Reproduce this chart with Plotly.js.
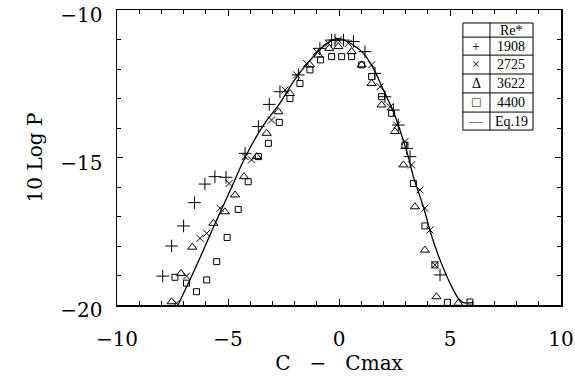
<!DOCTYPE html>
<html><head><meta charset="utf-8">
<script src="https://cdn.plot.ly/plotly-3.0.1.min.js"></script>
<style>html,body{margin:0;padding:0;background:#fff}#chart{width:575px;height:377px}</style>
</head><body><div id="chart"></div>
<script>
// Series Re* = 1908 (+)
const x1908 = [-7.94,-7.54,-7.0,-6.51,-6.04,-5.59,-5.09,-4.23,-3.63,-3.14,-2.66,-1.83,-0.86,-0.33,-0.18,0.2,0.65,1.17,1.62,2.07,2.45,2.67,3.05,3.2,4.55];
const y1908 = [-19.02,-18.0,-17.32,-16.53,-15.9,-15.65,-15.67,-14.86,-13.95,-13.2,-12.77,-12.2,-11.3,-11.02,-11.02,-11.02,-11.07,-11.41,-12.15,-12.94,-13.39,-13.9,-14.69,-14.97,-18.98];
// Series Re* = 2725 (x)
const x2725 = [-7.32,-6.87,-6.26,-5.96,-5.36,-4.95,-4.23,-3.94,-3.04,-2.43,-1.91,-1.46,-1.01,-0.48,-0.03,0.42,1.47,1.85,2.3,2.6,2.97,3.27,3.65,3.87,4.1,4.32];
const y2725 = [-19.94,-19.02,-17.74,-17.57,-16.72,-15.88,-14.97,-15.08,-13.73,-12.71,-12.2,-11.81,-11.41,-11.13,-11.02,-11.13,-11.86,-12.6,-13.28,-13.9,-14.46,-15.25,-16.1,-16.72,-17.46,-18.64];
// Series Re* = 3622 (triangle)
const x3622 = [-7.54,-7.12,-6.61,-5.66,-5.14,-4.68,-4.28,-3.71,-3.26,-2.73,-2.21,-1.31,-0.93,-0.44,-0.03,0.57,1.02,1.47,1.92,2.52,2.9,3.42,3.87,4.39,5.37];
const y3622 = [-19.89,-18.93,-18.04,-17.23,-16.84,-16.27,-15.65,-14.97,-14.18,-13.45,-12.83,-11.86,-11.53,-11.3,-11.24,-11.41,-11.86,-12.49,-13.22,-14.12,-15.25,-16.67,-18.14,-19.72,-19.94];
// Series Re* = 4400 (square)
const x4400 = [-7.39,-6.87,-6.42,-5.96,-5.51,-5.04,-4.54,-4.09,-3.63,-3.18,-2.69,-2.21,-1.76,-1.31,-0.83,-0.33,0.12,0.57,1.02,1.47,1.92,2.37,2.97,3.35,3.87,4.32,4.88,5.9];
const y4400 = [-19.06,-19.26,-19.55,-19.15,-18.53,-17.71,-16.76,-15.82,-14.97,-14.52,-13.81,-13.0,-12.49,-12.03,-11.69,-11.58,-11.58,-11.58,-11.86,-12.26,-12.94,-13.5,-14.58,-15.88,-17.32,-18.64,-19.91,-19.9];
// Eq.19 curve
const xEq = [-7.25,-6.5,-5.5,-4.8,-4.2,-3.4,-2.7,-2.0,-1.3,-0.55,0.0,0.65,1.1,1.55,2.0,2.45,2.82,3.12,3.35,3.8,4.18,4.55,5.0,5.37,5.6,6.0];
const yEq = [-20.0,-18.8,-17.1,-15.95,-14.95,-13.9,-13.2,-12.37,-11.7,-11.13,-10.97,-11.19,-11.47,-11.98,-12.71,-13.45,-14.24,-14.97,-15.65,-16.67,-17.68,-18.47,-19.26,-19.77,-19.92,-19.92];
// Legend table
const legendSymbols = ['+','×','Δ','□','—'];
const legendLabels = ['1908','2725','3622','4400','Eq.19'];
const legendHeader = 'Re*';

const mk = (sym, size) => ({symbol: sym, size: size, color: 'black', line: {color: 'black', width: 1}});
const traces = [
  {x: x1908, y: y1908, mode: 'markers', type: 'scatter', marker: mk('cross-thin-open', 9)},
  {x: x2725, y: y2725, mode: 'markers', type: 'scatter', marker: mk('x-thin-open', 7)},
  {x: x3622, y: y3622, mode: 'markers', type: 'scatter', marker: mk('triangle-up-open', 8)},
  {x: x4400, y: y4400, mode: 'markers', type: 'scatter', marker: mk('square-open', 6)},
  {x: xEq, y: yEq, mode: 'lines', type: 'scatter', line: {color: 'black', width: 1.3, shape: 'spline'}}
];

// legend table geometry (paper coords)
const L = 0.779, M = 0.840, R = 0.937;
const rows = [0.956, 0.908, 0.847, 0.783, 0.719, 0.654, 0.593];
const shapes = [{type: 'rect', xref: 'paper', yref: 'paper', x0: L, x1: R, y0: rows[6], y1: rows[0], fillcolor: 'white', line: {color: 'black', width: 1}}];
for (let i = 1; i < rows.length - 1; i++) {
  shapes.push({type: 'line', xref: 'paper', yref: 'paper', x0: L, x1: R, y0: rows[i], y1: rows[i], line: {color: 'black', width: 1}});
}
shapes.push({type: 'line', xref: 'paper', yref: 'paper', x0: M, x1: M, y0: rows[6], y1: rows[0], line: {color: 'black', width: 1}});
const lf = {family: 'Liberation Serif', size: 14, color: 'black'};
const ann = (x, y, t) => ({xref: 'paper', yref: 'paper', x: x, y: y, xanchor: 'center', yanchor: 'middle', text: t, showarrow: false, font: lf});
const annotations = [ann((M + R) / 2, (rows[0] + rows[1]) / 2, legendHeader)];
legendLabels.forEach((t, i) => {
  const yc = (rows[i + 1] + rows[i + 2]) / 2;
  annotations.push(ann((L + M) / 2, yc, legendSymbols[i]));
  annotations.push(ann((M + R) / 2, yc, t));
});

const af = {family: 'DejaVu Serif', size: 20, color: 'black'};
const layout = {
  width: 575, height: 377,
  margin: {l: 117, r: 14, t: 10, b: 72},
  paper_bgcolor: 'white', plot_bgcolor: 'white',
  showlegend: false,
  font: af,
  xaxis: {range: [-10, 10], dtick: 5, tick0: 0, ticks: 'inside', ticklen: 6, tickcolor: 'black',
    minor: {dtick: 1, ticks: 'inside', ticklen: 4, tickcolor: 'black'},
    showline: true, linecolor: 'black', linewidth: 1.5, mirror: 'ticks', showgrid: false, zeroline: false,
    ticklabelstandoff: 15, tickfont: af,
    title: {text: 'C\u00a0\u00a0\u00a0−\u00a0\u00a0\u00a0Cmax', font: {family: 'DejaVu Serif', size: 20, color: 'black'}, standoff: 3}},
  yaxis: {range: [-20, -10], dtick: 5, tick0: 0, ticks: 'inside', ticklen: 6, tickcolor: 'black',
    minor: {dtick: 1, ticks: 'inside', ticklen: 4, tickcolor: 'black'},
    showline: true, linecolor: 'black', linewidth: 1.5, mirror: 'ticks', showgrid: false, zeroline: false,
    ticklabelstandoff: 9, ticklabelshift: 5, tickfont: af,
    title: {text: '10 Log P', font: {family: 'DejaVu Serif', size: 20, color: 'black'}, standoff: 12}},
  shapes: shapes,
  annotations: annotations
};
Plotly.newPlot('chart', traces, layout, {displayModeBar: false, staticPlot: true});
</script></body></html>
